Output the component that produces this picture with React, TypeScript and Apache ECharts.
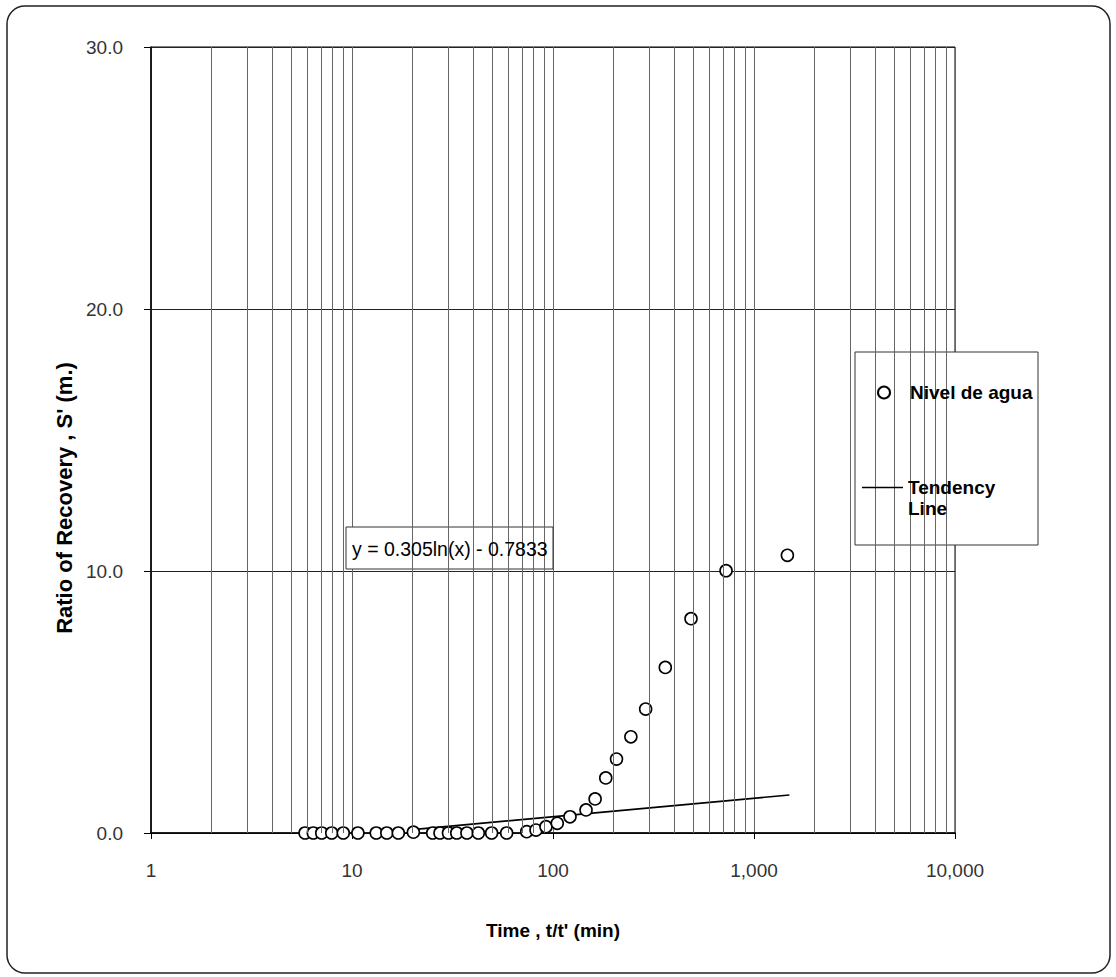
import React, { useEffect, useRef } from 'react';
import * as echarts from 'echarts';

const xTickLabels = ['1', '10', '100', '1,000', '10,000'];
const yTickLabels = ['0.0', '10.0', '20.0', '30.0'];

const timeRatio = [5.84, 6.42, 7.07, 7.93, 9.05, 10.7, 13.2, 14.9, 17.0, 20.2, 25.2, 27.4, 30.2, 33.2, 37.3, 42.5, 49.5, 58.8, 74.0, 82.3, 92.3, 105, 121.5, 146, 162, 183, 207, 244, 289, 362, 486, 726, 1466];
const recovery = [0, 0, 0, 0, 0, 0, 0, 0, 0, 0.03, 0, 0, 0, 0, 0, 0, 0, 0, 0.05, 0.11, 0.24, 0.37, 0.62, 0.88, 1.3, 2.1, 2.82, 3.67, 4.73, 6.32, 8.18, 10.01, 10.6];

const trendX = [20, 1500];
const trendY = [0.13, 1.45];

const minorGridValues = [2, 3, 4, 5, 6, 7, 8, 9, 20, 30, 40, 50, 60, 70, 80, 90, 200, 300, 400, 500, 600, 700, 800, 900, 2000, 3000, 4000, 5000, 6000, 7000, 8000, 9000];

const seriesNames = ['Nivel de agua', 'Tendency Line'];
const equationText = 'y = 0.305ln(x) - 0.7833';

const FONT = '"Liberation Sans", Arial, Helvetica, sans-serif';

// legend line icon: a thin bar aligned with the first text line, with invisible points extending its box
const TREND_ICON = 'path://M0,0H0.01V0Z M0,9.7H41V11.3H0Z M0,42H0.01V42Z';

export default function App() {
  const ref = useRef<HTMLDivElement>(null);
  useEffect(() => {
    if (!ref.current) return;
    const chart = echarts.init(ref.current, null, { renderer: 'svg' });
    chart.setOption({
      animation: false,
      backgroundColor: '#fff',
      textStyle: { fontFamily: FONT },
      grid: { left: 151, right: 161, top: 47, bottom: 144, show: true, borderColor: '#000', borderWidth: 1 },
      xAxis: {
        type: 'log',
        logBase: 10,
        min: 1,
        max: 10000,
        name: "Time , t/t' (min)",
        nameLocation: 'middle',
        nameGap: 88,
        nameTextStyle: { fontFamily: FONT, fontWeight: 'bold', fontSize: 19, color: '#000' },
        axisLine: { show: true, lineStyle: { color: '#000', width: 1.5 } },
        axisTick: { show: true, length: 6, lineStyle: { color: '#000' } },
        axisLabel: {
          margin: 28,
          fontSize: 19,
          color: '#333',
          fontFamily: FONT,
          formatter: (v: number) => xTickLabels[Math.round(Math.log10(v))] ?? '',
        },
        splitLine: { show: true, lineStyle: { color: '#666', width: 1 } },
      },
      yAxis: {
        type: 'value',
        min: 0,
        max: 30,
        interval: 10,
        name: "Ratio of Recovery , S' (m.)",
        nameLocation: 'middle',
        nameGap: 74,
        nameTextStyle: { fontFamily: FONT, fontWeight: 'bold', fontSize: 22, color: '#000', padding: [0, 116, 0, 0] },
        axisLine: { show: true, lineStyle: { color: '#000', width: 1.5 } },
        axisTick: { show: true, length: 7, lineStyle: { color: '#000' } },
        axisLabel: {
          margin: 28,
          fontSize: 19,
          color: '#333',
          fontFamily: FONT,
          formatter: (v: number) => yTickLabels[Math.round(v / 10)] ?? '',
        },
        splitLine: { show: true, lineStyle: { color: '#222', width: 1 } },
      },
      legend: [
        {
          left: 872,
          top: 378,
          z: 10,
          itemWidth: 42,
          itemHeight: 12,
          data: [{ name: seriesNames[0], icon: 'circle' }],
          textStyle: { fontFamily: FONT, fontWeight: 'bold', fontSize: 19, color: '#000' },
        },
        {
          left: 857,
          top: 472,
          z: 10,
          itemWidth: 41,
          itemHeight: 42,
          data: [{ name: seriesNames[1], icon: TREND_ICON }],
          formatter: () => 'Tendency\nLine',
          textStyle: { fontFamily: FONT, fontWeight: 'bold', fontSize: 19, color: '#000', lineHeight: 21 },
        },
      ],
      graphic: [
        {
          type: 'rect',
          shape: { x: 7, y: 6, width: 1103, height: 967, r: 18 },
          style: { fill: 'none', stroke: '#222', lineWidth: 1.5 },
          z: 0,
          silent: true,
        },
        {
          type: 'rect',
          shape: { x: 855, y: 352, width: 183, height: 193 },
          style: { fill: '#fff', stroke: '#333', lineWidth: 1 },
          z: 5,
          silent: true,
        },
        {
          type: 'rect',
          shape: { x: 346, y: 527, width: 207, height: 42 },
          style: { fill: '#fff', stroke: '#333', lineWidth: 1 },
          z: 5,
          silent: true,
        },
        {
          type: 'text',
          x: 352,
          y: 549,
          style: { text: equationText, fontFamily: FONT, fontSize: 19.5, fill: '#000', verticalAlign: 'middle' },
          z: 6,
          silent: true,
        },
      ],
      series: [
        {
          name: seriesNames[1],
          type: 'line',
          symbol: 'none',
          z: 2,
          lineStyle: { color: '#000', width: 1.6 },
          itemStyle: { color: '#000' },
          data: trendX.map((x, i) => [x, trendY[i]]),
          markLine: {
            silent: true,
            symbol: 'none',
            label: { show: false },
            lineStyle: { color: '#666', width: 1, type: 'solid' },
            data: minorGridValues.map((v) => ({ xAxis: v })),
          },
        },
        {
          name: seriesNames[0],
          type: 'scatter',
          symbol: 'circle',
          symbolSize: 12,
          z: 3,
          itemStyle: { color: '#fff', borderColor: '#000', borderWidth: 1.6, opacity: 1 },
          data: timeRatio.map((x, i) => [x, recovery[i]]),
        },
      ],
    });
    return () => chart.dispose();
  }, []);
  return <div ref={ref} style={{ position: 'absolute', left: 0, top: 0, width: 1116, height: 977 }} />;
}
